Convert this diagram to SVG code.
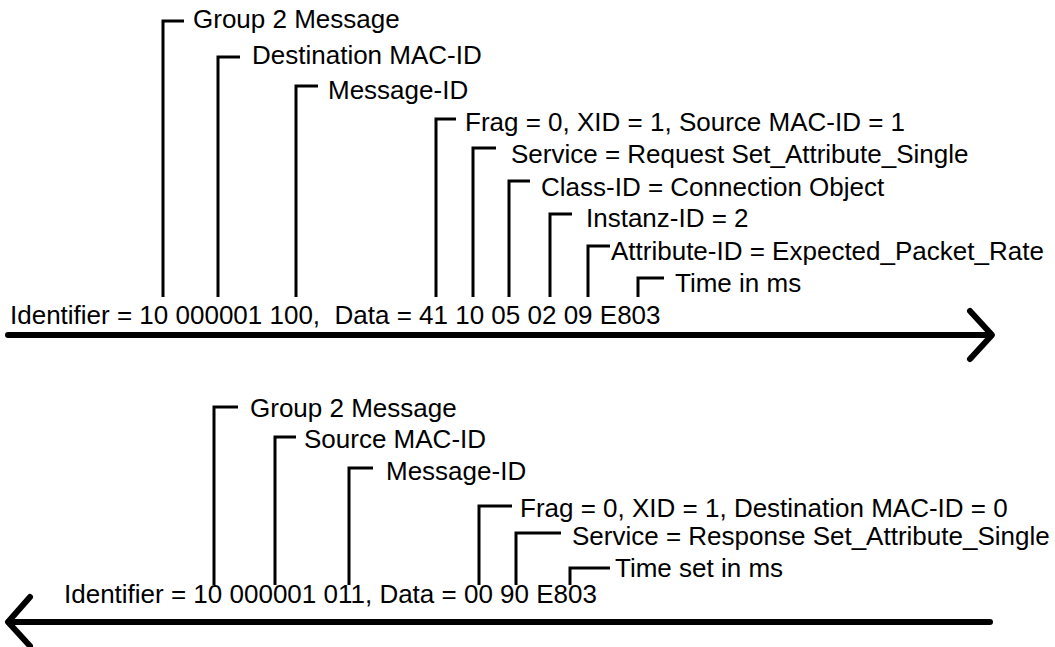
<svg xmlns="http://www.w3.org/2000/svg" width="1055" height="647" viewBox="0 0 1055 647">
<style>
  text { font-family: "Liberation Sans", Arial, sans-serif; font-size: 26px; fill: #000; }
  .br { fill: none; stroke: #000; stroke-width: 3; stroke-linecap: butt; stroke-linejoin: miter; }
  .ar { fill: none; stroke: #000; stroke-width: 6; stroke-linecap: round; stroke-linejoin: round; }
</style>
<rect width="1055" height="647" fill="#fff"/>
<g id="request">
  <g id="r-group"><path class="br" d="M163,297 V21 H184"/><text x="193" y="28">Group 2 Message</text></g>
  <g id="r-dest"><path class="br" d="M218,297 V57 H240"/><text x="252" y="64">Destination MAC-ID</text></g>
  <g id="r-msgid"><path class="br" d="M296,297 V86 H318"/><text x="328" y="99">Message-ID</text></g>
  <g id="r-frag"><path class="br" d="M436,297 V119 H456"/><text x="465" y="131">Frag = 0, XID = 1, Source MAC-ID = 1</text></g>
  <g id="r-service"><path class="br" d="M473,297 V148 H496"/><text x="511" y="163">Service = Request Set_Attribute_Single</text></g>
  <g id="r-class"><path class="br" d="M509,297 V181 H530"/><text x="541" y="196">Class-ID = Connection Object</text></g>
  <g id="r-inst"><path class="br" d="M550,297 V214 H572"/><text x="586" y="227">Instanz-ID = 2</text></g>
  <g id="r-attr"><path class="br" d="M588,297 V246 H610"/><text x="611" y="260">Attribute-ID = Expected_Packet_Rate</text></g>
  <g id="r-time"><path class="br" d="M638,297 V278 H664"/><text x="675" y="292">Time in ms</text></g>
  <g id="r-ident"><text x="10" y="324" xml:space="preserve">Identifier = 10 000001 100,  Data = 41 10 05 02 09 E803</text></g>
</g>
<g id="response">
  <g id="s-group"><path class="br" d="M214,585 V407 H238"/><text x="250" y="417">Group 2 Message</text></g>
  <g id="s-src"><path class="br" d="M275,585 V437 H296"/><text x="304" y="448">Source MAC-ID</text></g>
  <g id="s-msgid"><path class="br" d="M349,585 V468 H373"/><text x="386" y="480">Message-ID</text></g>
  <g id="s-frag"><path class="br" d="M479,585 V506 H512"/><text x="520" y="517">Frag = 0, XID = 1, Destination MAC-ID = 0</text></g>
  <g id="s-service"><path class="br" d="M516,585 V533 H561"/><text x="572" y="545">Service = Response Set_Attribute_Single</text></g>
  <g id="s-time"><path class="br" d="M570,585 V568 H610"/><text x="615" y="577">Time set in ms</text></g>
  <g id="s-ident"><text x="64" y="603">Identifier = 10 000001 011, Data = 00 90 E803</text></g>
</g>
<g id="connectors">
  <path class="ar" d="M8,335 H990"/>
  <path class="ar" d="M970,311 L992,335 L970,359"/>
  <path class="ar" d="M10,622 H990"/>
  <path class="ar" d="M30,597 L8,622 L30,646"/>
</g>
</svg>
